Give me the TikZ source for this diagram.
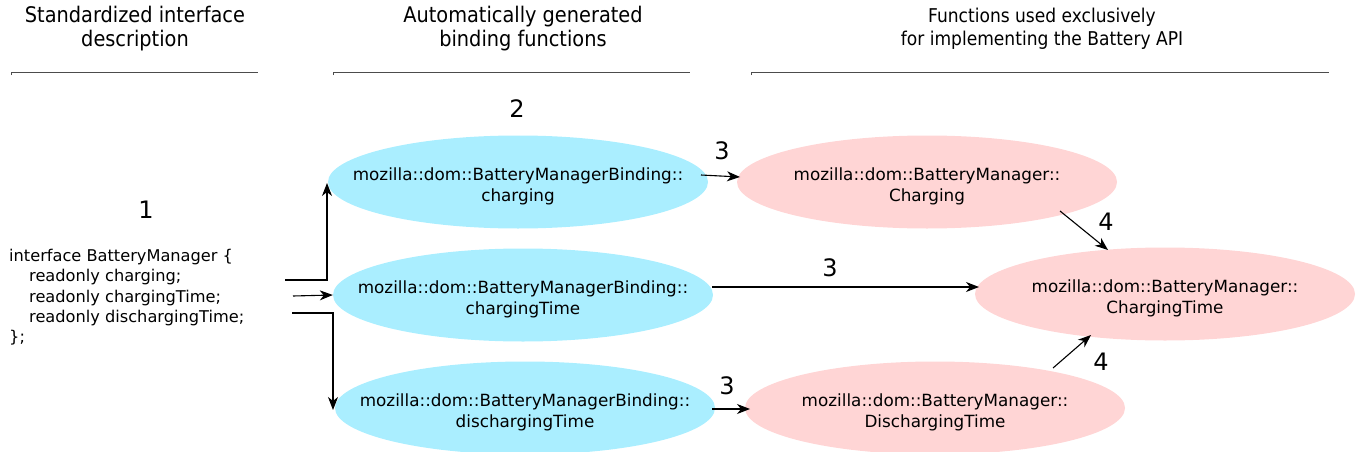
\documentclass[tikz,border=0pt]{standalone}
\usepackage{fontspec}
\setmainfont{DejaVu Sans}
\newfontfamily\condfont{DejaVu Sans Condensed}
\usetikzlibrary{arrows.meta,shapes.geometric}
\definecolor{bluefill}{RGB}{170,238,255}
\definecolor{pinkfill}{RGB}{255,213,213}
\newcommand{\toplift}{\rule{0pt}{21pt}}
\tikzset{
  ell/.style={ellipse,minimum width=380pt,minimum height=93pt,inner xsep=-40pt,inner ysep=0pt,align=center,font=\fontsize{16.8}{20.5}\selectfont},
  blueell/.style={ell,fill=bluefill},
  pinkell/.style={ell,fill=pinkfill},
  head/.style={align=center,font=\condfont\fontsize{21.5}{24}\selectfont},
  num/.style={font=\fontsize{24}{24}\selectfont},
  arr/.style={-{Stealth[length=13pt,width=10pt,inset=4pt]},line width=1.1pt},
  hline/.style={line width=0.8pt,draw=black!70},
}
\begin{document}
\begin{tikzpicture}[x=1pt,y=-1pt]
\useasboundingbox (0,0) rectangle (1356,452);
% headers
\node[head] (h1) at (135,29) {Standardized interface\\description};
\node[head] (h2) at (523,29) {Automatically generated\\binding functions};
\node[head,font=\condfont\fontsize{19}{23}\selectfont] (h3) at (1042,29) {Functions used exclusively\\for implementing the Battery API};
\draw[hline] (11,75) -- (11,72) -- (258,72);
\draw[hline] (333,75) -- (333,72) -- (690,72);
\draw[hline] (751,75) -- (751,72) -- (1329,72);
% interface text
\node[anchor=north west,align=left,inner sep=0pt,font=\fontsize{16.2}{20.3}\selectfont] (iface) at (9,249)
{interface BatteryManager \{\\
\hspace*{20pt}readonly charging;\\
\hspace*{20pt}readonly chargingTime;\\
\hspace*{20pt}readonly dischargingTime;\\
\};};
% ellipses
\node[blueell] (b1) at (518,182) {\toplift mozilla::dom::BatteryManagerBinding::\\charging};
\node[blueell] (b2) at (523,295) {\toplift mozilla::dom::BatteryManagerBinding::\\chargingTime};
\node[blueell] (b3) at (525,408) {\toplift mozilla::dom::BatteryManagerBinding::\\dischargingTime};
\node[pinkell] (p1) at (927,182) {\toplift mozilla::dom::BatteryManager::\\Charging};
\node[pinkell] (p2) at (1165,294) {\toplift mozilla::dom::BatteryManager::\\ChargingTime};
\node[pinkell] (p3) at (935,408) {\toplift mozilla::dom::BatteryManager::\\DischargingTime};
% numbers
\node[num] (n1) at (146,210) {1};
\node[num] (n2) at (517,109) {2};
\node[num] (n3a) at (722,151) {3};
\node[num] (n3b) at (830,268) {3};
\node[num] (n3c) at (727,386) {3};
\node[num] (n4a) at (1106,222) {4};
\node[num] (n4b) at (1101,362) {4};
% connector end points
\coordinate (s1) at (285,280);
\coordinate (s2) at (293,296);
\coordinate (s3) at (292,313);
\coordinate (t1) at (327,183);
\coordinate (t3) at (333,410);
\coordinate (c1a) at (701,175);
\coordinate (c1b) at (740,177);
\coordinate (c2a) at (712,287);
\coordinate (c2b) at (979,287);
\coordinate (c3a) at (712,409);
\coordinate (c3b) at (750,409);
\coordinate (d1a) at (1060,211);
\coordinate (d1b) at (1108,250);
\coordinate (d2a) at (1053,368);
\coordinate (d2b) at (1091,335);
\draw[arr] (s1) -| (t1);
\draw[arr] (s2) -- (b2.west);
\draw[arr] (s3) -| (t3);
\draw[arr] (c1a) -- (c1b);
\draw[arr] (c2a) -- (c2b);
\draw[arr] (c3a) -- (c3b);
\draw[arr] (d1a) -- (d1b);
\draw[arr] (d2a) -- (d2b);
\end{tikzpicture}
\end{document}
